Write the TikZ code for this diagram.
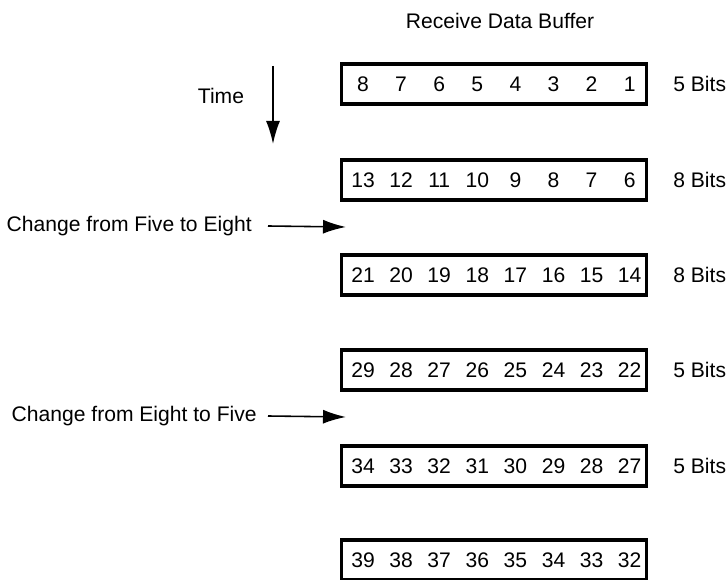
\documentclass[tikz,border=0pt]{standalone}
\usepackage{fontspec}
\setmainfont{Liberation Sans}
\usetikzlibrary{arrows.meta}

\tikzset{
	bufbox/.style={shape=rectangle, draw, line width=2.2pt, minimum width=6.1cm, minimum height=0.8cm, inner sep=0pt},
	bit/.style={inner sep=0pt},
	flow/.style={line width=0.9pt, -{Latex[length=0.46cm, width=0.28cm]}},
}

\begin{document}
\begin{tikzpicture}[x=0.02cm, y=-0.02cm, every node/.style={font=\fontsize{12}{14}\selectfont, inner sep=0pt}]
	\useasboundingbox (0,0) rectangle (727,580);
	\node (title) at (500,21) {Receive Data Buffer};
	% time axis
	\node (time) at (221,96) {Time};
	\coordinate (t0) at (273,66);
	\coordinate (t1) at (273,144);
	\draw[flow] (t0) -- (t1);
	% buffer rows
	\node[bufbox] (R1) at (494,84) {};
	\foreach \v [count=\i from 0] in {8,7,6,5,4,3,2,1} \node[bit] (R1n\i) at (363+38.1*\i,84) {\v};
	\node[anchor=west] (L1) at (673,84) {5 Bits};
	\node[bufbox] (R2) at (494,180) {};
	\foreach \v [count=\i from 0] in {13,12,11,10,9,8,7,6} \node[bit] (R2n\i) at (363+38.1*\i,180) {\v};
	\node[anchor=west] (L2) at (673,180) {8 Bits};
	\node[bufbox] (R3) at (494,275) {};
	\foreach \v [count=\i from 0] in {21,20,19,18,17,16,15,14} \node[bit] (R3n\i) at (363+38.1*\i,275) {\v};
	\node[anchor=west] (L3) at (673,275) {8 Bits};
	\node[bufbox] (R4) at (494,370) {};
	\foreach \v [count=\i from 0] in {29,28,27,26,25,24,23,22} \node[bit] (R4n\i) at (363+38.1*\i,370) {\v};
	\node[anchor=west] (L4) at (673,370) {5 Bits};
	\node[bufbox] (R5) at (494,466) {};
	\foreach \v [count=\i from 0] in {34,33,32,31,30,29,28,27} \node[bit] (R5n\i) at (363+38.1*\i,466) {\v};
	\node[anchor=west] (L5) at (673,466) {5 Bits};
	\node[bufbox] (R6) at (494,560) {};
	\foreach \v [count=\i from 0] in {39,38,37,36,35,34,33,32} \node[bit] (R6n\i) at (363+38.1*\i,560) {\v};
	% width changes
	\node[anchor=east] (chg1) at (252,226) {Change from Five to Eight};
	\coordinate (c1) at (346,227);
	\draw[flow] ([xshift=0.32cm]chg1.east) -- (c1);
	\node[anchor=east] (chg2) at (257,416) {Change from Eight to Five};
	\coordinate (c2) at (346,417);
	\draw[flow] ([xshift=0.22cm]chg2.east) -- (c2);
\end{tikzpicture}
\end{document}
